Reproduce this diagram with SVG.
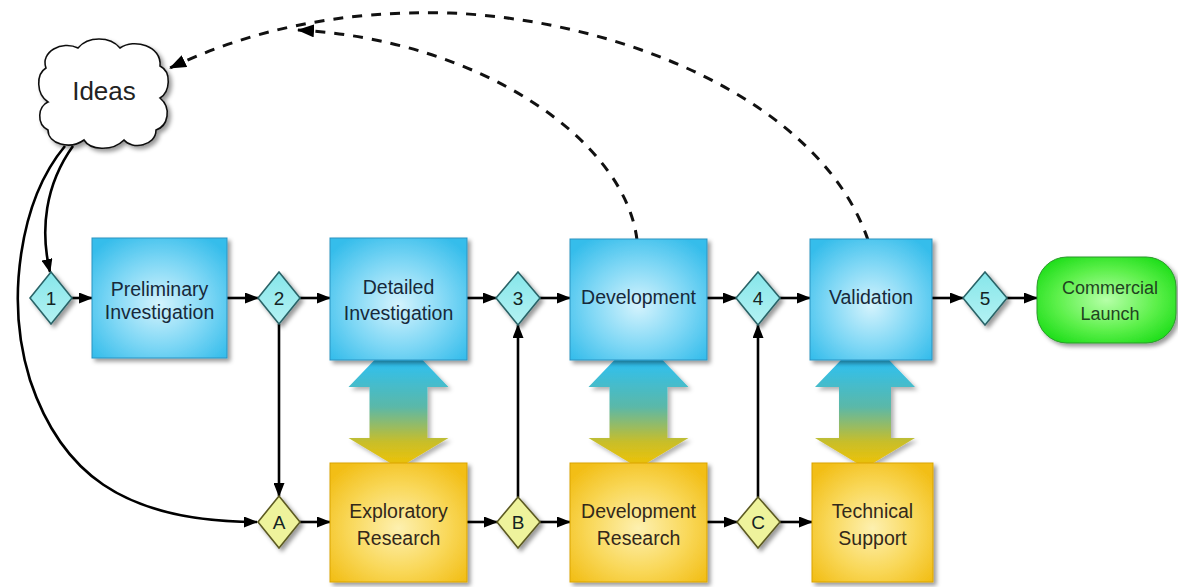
<svg xmlns="http://www.w3.org/2000/svg" width="1178" height="587" viewBox="0 0 1178 587">
<defs>
<style>
.txt{font-family:"Liberation Sans",Arial,sans-serif;font-size:19.5px;text-anchor:middle}
.bt{fill:#17293a}
.yt{fill:#33291a}
.gt{fill:#1f441f;font-size:18px}
.dt{font-size:19px;fill:#142424}
.blue{fill:url(#gBlue);stroke:#2a93c2;stroke-width:1;filter:url(#sh)}
.yel{fill:url(#gYel);stroke:#d9a300;stroke-width:1;filter:url(#sh)}
.dn{fill:url(#gDia);stroke:#2a6468;stroke-width:1.6;filter:url(#sh)}
.dl{fill:#eef39c;stroke:#5c5a22;stroke-width:1.6;filter:url(#sh)}
.dbl{fill:url(#gDbl);filter:url(#sh2)}
.ln{fill:none;stroke:#000;stroke-width:2.6}
.dash{fill:none;stroke:#111;stroke-width:3;stroke-dasharray:10 9}
</style>
<radialGradient id="gBlue" cx="50%" cy="55%" r="65%">
<stop offset="0" stop-color="#d4f3fd"/><stop offset="0.55" stop-color="#7ed7f5"/><stop offset="1" stop-color="#36bdeb"/>
</radialGradient>
<radialGradient id="gYel" cx="50%" cy="55%" r="65%">
<stop offset="0" stop-color="#fdf0b0"/><stop offset="0.55" stop-color="#f9d85a"/><stop offset="1" stop-color="#f2be16"/>
</radialGradient>
<radialGradient id="gGreen" cx="50%" cy="50%" r="60%">
<stop offset="0" stop-color="#b6ffa8"/><stop offset="0.6" stop-color="#5cf04a"/><stop offset="1" stop-color="#1ede1a"/>
</radialGradient>
<linearGradient id="gDia" x1="0" y1="0" x2="0" y2="1">
<stop offset="0" stop-color="#86e6ea"/><stop offset="1" stop-color="#b4f2f3"/>
</linearGradient>
<linearGradient id="gDbl" gradientUnits="userSpaceOnUse" x1="0" y1="362" x2="0" y2="462">
<stop offset="0" stop-color="#2fc0f0"/><stop offset="0.45" stop-color="#5bb8a8"/><stop offset="0.8" stop-color="#c8be2a"/><stop offset="1" stop-color="#eac20a"/>
</linearGradient>
<filter id="sh" x="-20%" y="-20%" width="150%" height="150%">
<feDropShadow dx="3" dy="3" stdDeviation="2" flood-color="#000" flood-opacity="0.4"/>
</filter>
<filter id="sh2" x="-20%" y="-20%" width="150%" height="150%">
<feDropShadow dx="3" dy="3" stdDeviation="2" flood-color="#000" flood-opacity="0.3"/>
</filter>
<marker id="ah" viewBox="0 0 14 11" refX="13" refY="5.5" markerWidth="14" markerHeight="11" markerUnits="userSpaceOnUse" orient="auto">
<path d="M0,0 L14,5.5 L0,11 z" fill="#000"/>
</marker>
<marker id="ahd" viewBox="0 0 17 13" refX="16" refY="6.5" markerWidth="17" markerHeight="13" markerUnits="userSpaceOnUse" orient="auto">
<path d="M0,0 L17,6.5 L0,13 z" fill="#000"/>
</marker>
</defs>
<rect width="1178" height="587" fill="#fff"/>

<g id="exchange-arrows">
<path class="dbl" d="M398.5,335 L448.5,387 L427.5,387 L427.5,438 L448.5,438 L398.5,468 L348.5,438 L369.5,438 L369.5,387 L348.5,387 Z"/>
<path class="dbl" d="M638.5,335 L688.5,387 L667.5,387 L667.5,438 L688.5,438 L638.5,468 L588.5,438 L609.5,438 L609.5,387 L588.5,387 Z"/>
<path class="dbl" d="M865,335 L915,387 L891,387 L891,438 L915,438 L865,468 L815,438 L839,438 L839,387 L815,387 Z"/>
</g>

<g id="connectors">
<path class="dash" d="M868,240 C820,100 620,20 450,13 C340,10 250,30 170,68" marker-end="url(#ahd)"/>
<path class="dash" d="M637,240 C625,140 480,40 298,30" marker-end="url(#ahd)"/>
<path class="ln" d="M73,146 C45,185 40,230 50,272" marker-end="url(#ah)"/>
<path class="ln" d="M65,146 C20,200 5,300 30,380 C60,470 120,522 257,522" marker-end="url(#ah)"/>
<line class="ln" x1="72" y1="298" x2="92" y2="298" marker-end="url(#ah)"/>
<line class="ln" x1="227" y1="298" x2="258" y2="298" marker-end="url(#ah)"/>
<line class="ln" x1="300" y1="298" x2="330" y2="298" marker-end="url(#ah)"/>
<line class="ln" x1="467" y1="298" x2="496" y2="298" marker-end="url(#ah)"/>
<line class="ln" x1="540" y1="298" x2="570" y2="298" marker-end="url(#ah)"/>
<line class="ln" x1="707" y1="298" x2="736" y2="298" marker-end="url(#ah)"/>
<line class="ln" x1="780" y1="298" x2="810" y2="298" marker-end="url(#ah)"/>
<line class="ln" x1="932" y1="298" x2="963" y2="298" marker-end="url(#ah)"/>
<line class="ln" x1="1007" y1="298" x2="1037" y2="298" marker-end="url(#ah)"/>
<line class="ln" x1="300" y1="522" x2="330" y2="522" marker-end="url(#ah)"/>
<line class="ln" x1="467" y1="522" x2="497" y2="522" marker-end="url(#ah)"/>
<line class="ln" x1="540" y1="522" x2="570" y2="522" marker-end="url(#ah)"/>
<line class="ln" x1="707" y1="522" x2="737" y2="522" marker-end="url(#ah)"/>
<line class="ln" x1="780" y1="522" x2="812" y2="522" marker-end="url(#ah)"/>
<line class="ln" x1="279" y1="324" x2="279" y2="496" marker-end="url(#ah)"/>
<line class="ln" x1="518" y1="497" x2="518" y2="325" marker-end="url(#ah)"/>
<line class="ln" x1="758" y1="497" x2="758" y2="325" marker-end="url(#ah)"/>
</g>

<g id="ideas">
<path d="M46,68 C40,52 62,40 78,48 C88,36 110,36 120,48 C134,38 162,46 160,66 C172,72 170,92 160,98 C172,108 168,126 156,130 C156,146 132,150 124,140 C112,152 90,150 84,140 C70,150 48,144 48,130 C36,124 38,106 48,102 C36,94 36,74 46,68 Z" fill="#fff" stroke="#111" stroke-width="1.6" filter="url(#sh)"/>
<text class="txt" x="104" y="100" style="font-size:26px;fill:#222">Ideas</text>
</g>

<g id="preliminary">
<rect class="blue" x="92" y="238" width="135" height="120"/>
<text class="txt bt" x="159.5" y="296">Preliminary</text>
<text class="txt bt" x="159.5" y="319">Investigation</text>
</g>
<g id="detailed">
<rect class="blue" x="330" y="238" width="137" height="122"/>
<text class="txt bt" x="398.5" y="294">Detailed</text>
<text class="txt bt" x="398.5" y="320">Investigation</text>
</g>
<g id="development">
<rect class="blue" x="570" y="239" width="137" height="121"/>
<text class="txt bt" x="638.5" y="304">Development</text>
</g>
<g id="validation">
<rect class="blue" x="810" y="239" width="122" height="121"/>
<text class="txt bt" x="871" y="304">Validation</text>
</g>

<g id="exploratory">
<rect class="yel" x="330" y="463" width="137" height="119"/>
<text class="txt yt" x="398.5" y="518">Exploratory</text>
<text class="txt yt" x="398.5" y="545">Research</text>
</g>
<g id="devresearch">
<rect class="yel" x="570" y="463" width="137" height="119"/>
<text class="txt yt" x="638.5" y="518">Development</text>
<text class="txt yt" x="638.5" y="545">Research</text>
</g>
<g id="techsupport">
<rect class="yel" x="812" y="463" width="121" height="119"/>
<text class="txt yt" x="872.5" y="518">Technical</text>
<text class="txt yt" x="872.5" y="545">Support</text>
</g>

<g id="launch">
<rect x="1037" y="257" width="139" height="86" rx="30" fill="url(#gGreen)" stroke="#2a9a2a" stroke-width="1" filter="url(#sh)"/>
<text class="txt gt" x="1110" y="294">Commercial</text>
<text class="txt gt" x="1110" y="320">Launch</text>
</g>

<g id="d1"><path class="dn" d="M51,272 L72,298 L51,324 L30,298 Z"/><text class="txt dt" x="51" y="305">1</text></g>
<g id="d2"><path class="dn" d="M279,272 L300,298 L279,324 L258,298 Z"/><text class="txt dt" x="279" y="305">2</text></g>
<g id="d3"><path class="dn" d="M518,272 L540,298 L518,325 L496,298 Z"/><text class="txt dt" x="518" y="305">3</text></g>
<g id="d4"><path class="dn" d="M758,272 L780,298 L758,325 L736,298 Z"/><text class="txt dt" x="758" y="305">4</text></g>
<g id="d5"><path class="dn" d="M985,272 L1007,298 L985,325 L963,298 Z"/><text class="txt dt" x="985" y="305">5</text></g>
<g id="dA"><path class="dl" d="M279,496 L300,522 L279,548 L258,522 Z"/><text class="txt dt" x="279" y="529">A</text></g>
<g id="dB"><path class="dl" d="M518,497 L540,522 L518,548 L497,522 Z"/><text class="txt dt" x="518" y="529">B</text></g>
<g id="dC"><path class="dl" d="M758,497 L780,522 L758,548 L737,522 Z"/><text class="txt dt" x="758" y="529">C</text></g>
</svg>
